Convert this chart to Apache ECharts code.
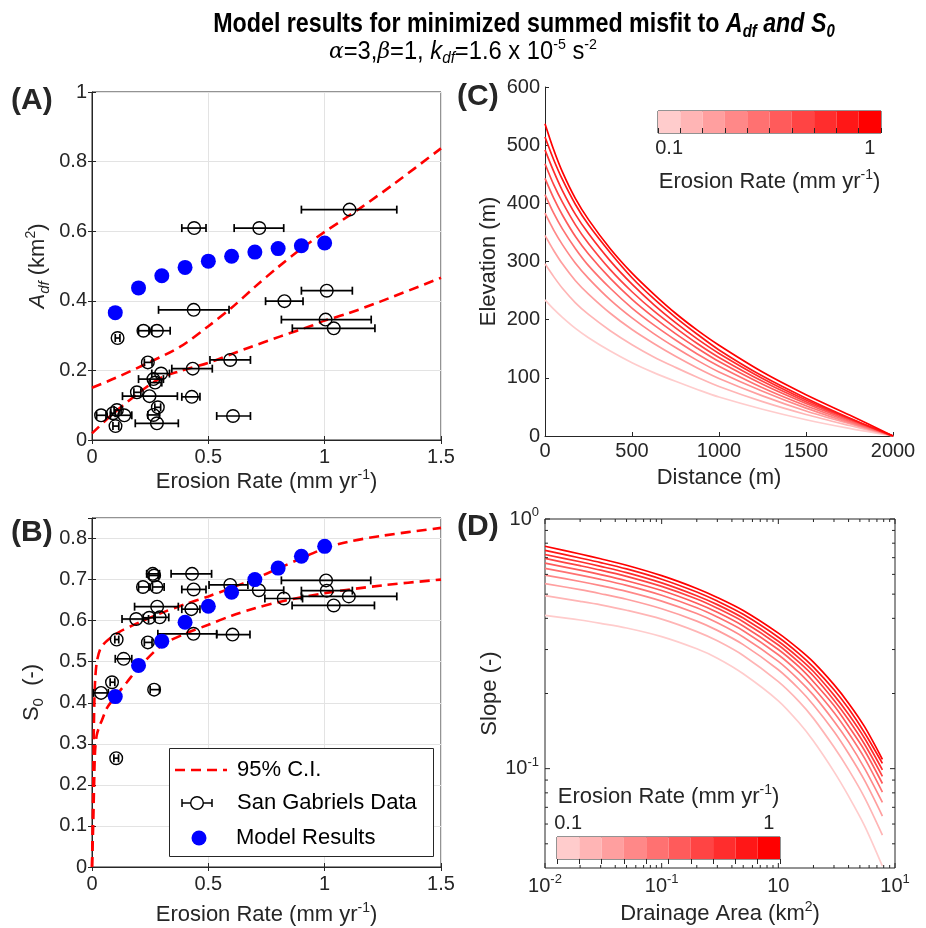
<!DOCTYPE html>
<html><head><meta charset="utf-8">
<script src="https://cdn.jsdelivr.net/npm/echarts@6/dist/echarts.min.js"></script>
<style>html,body{margin:0;padding:0;background:#fff}#c{width:926px;height:928px}</style>
</head><body><div id="c"></div>
<script>
// ---------------- DATA ----------------
const erosionModel = [0.1,0.2,0.3,0.4,0.5,0.6,0.7,0.8,0.9,1.0];
const adfModel = [0.366,0.437,0.472,0.496,0.514,0.528,0.540,0.550,0.558,0.566];
const s0Model  = [0.415,0.491,0.550,0.596,0.635,0.669,0.700,0.728,0.757,0.781];

// [erosion, value, errLow, errHigh]
const adfData = [
 [1.107,0.662,0.90,1.31],[0.439,0.609,0.386,0.49],[0.719,0.609,0.611,0.824],
 [1.009,0.429,0.90,1.119],[0.827,0.399,0.746,0.907],[0.437,0.374,0.286,0.589],
 [1.004,0.346,0.814,1.20],[1.039,0.321,0.861,1.216],[0.11,0.293,0.10,0.12],
 [0.221,0.314,0.20,0.245],[0.279,0.314,0.257,0.336],[0.24,0.223,0.225,0.258],
 [0.297,0.191,0.257,0.333],[0.433,0.205,0.343,0.517],[0.594,0.230,0.507,0.681],
 [0.264,0.175,0.20,0.307],[0.271,0.165,0.25,0.30],[0.193,0.137,0.18,0.21],
 [0.247,0.126,0.131,0.367],[0.429,0.124,0.386,0.464],[0.606,0.069,0.536,0.681],
 [0.039,0.071,0.02,0.06],[0.107,0.086,0.095,0.125],[0.09,0.077,0.08,0.10],
 [0.139,0.071,0.079,0.171],[0.101,0.04,0.09,0.115],[0.283,0.094,0.27,0.295],
 [0.264,0.072,0.24,0.29],[0.279,0.048,0.186,0.371]
];
const s0Data = [
 [0.261,0.714,0.235,0.29],[0.267,0.71,0.245,0.285],[0.43,0.714,0.34,0.514],
 [0.219,0.682,0.2,0.245],[0.277,0.682,0.26,0.31],[0.437,0.676,0.386,0.49],
 [0.594,0.687,0.503,0.67],[0.717,0.674,0.614,0.824],[1.006,0.698,0.814,1.198],
 [1.009,0.673,0.90,1.119],[1.104,0.659,0.90,1.31],[0.824,0.654,0.743,0.905],
 [1.039,0.637,0.86,1.214],[0.28,0.634,0.183,0.371],[0.427,0.628,0.386,0.464],
 [0.19,0.604,0.129,0.243],[0.246,0.607,0.22,0.27],[0.291,0.608,0.27,0.33],
 [0.436,0.568,0.283,0.536],[0.604,0.566,0.536,0.679],[0.106,0.554,0.098,0.115],
 [0.24,0.547,0.225,0.258],[0.136,0.507,0.1,0.171],[0.086,0.45,0.078,0.098],
 [0.039,0.424,0.007,0.07],[0.267,0.432,0.25,0.29],[0.104,0.265,0.094,0.114]
];

const adfCIUpper = [[0,0.15],[0.1,0.178],[0.236,0.22],[0.379,0.268],[0.5,0.327],[0.6,0.38],[0.7,0.44],[0.8,0.497],[0.9,0.55],[1.0,0.598],[1.15,0.665],[1.3,0.737],[1.5,0.838]];
const adfCILower = [[0,0.019],[0.093,0.077],[0.236,0.153],[0.307,0.182],[0.379,0.198],[0.5,0.222],[0.664,0.263],[0.807,0.297],[0.95,0.33],[1.0,0.343],[1.093,0.362],[1.236,0.397],[1.5,0.466]];
const s0CIUpper = [[0,0],[0.004,0.15],[0.007,0.3],[0.01,0.4],[0.014,0.46],[0.021,0.5],[0.035,0.53],[0.057,0.547],[0.113,0.571],[0.2,0.595],[0.3,0.619],[0.4,0.64],[0.5,0.659],[0.6,0.68],[0.7,0.702],[0.8,0.727],[0.9,0.752],[1.0,0.776],[1.1,0.792],[1.25,0.807],[1.5,0.826]];
const s0CILower = [[0,0],[0.005,0.1],[0.009,0.2],[0.013,0.28],[0.02,0.32],[0.03,0.34],[0.043,0.358],[0.064,0.387],[0.1,0.415],[0.15,0.45],[0.2,0.485],[0.3,0.54],[0.4,0.568],[0.5,0.59],[0.6,0.612],[0.7,0.63],[0.8,0.645],[1.0,0.667],[1.25,0.686],[1.5,0.70]];

const erosionRateLevels = ['0.1','0.2','0.3','0.4','0.5','0.6','0.7','0.8','0.9','1'];

const distance = [0,50,100,175,250,375,500,625,750,875,1000,1250,1500,1750,2000];
const elevationByRate = [
 [234,218,204,185,169,146,126,109,94,80,67,46,28,13,0],
 [296,274,254,229,209,181,157,136,118,101,85,59,37,18,0],
 [345,319,296,267,244,211,183,159,137,117,99,69,43,21,0],
 [383,354,329,297,271,234,203,176,152,130,110,77,48,23,0],
 [415,383,356,322,293,254,220,191,165,141,120,83,52,25,0],
 [443,409,380,343,313,271,235,204,176,151,128,89,56,27,0],
 [468,432,402,363,331,286,248,215,186,159,135,94,59,29,0],
 [492,455,422,381,348,301,261,226,195,167,142,99,62,30,0],
 [514,475,441,398,363,315,272,236,204,175,148,103,65,31,0],
 [537,492,454,408,372,322,280,244,211,182,156,110,71,36,0]
];

const drainageArea = [0.01,0.02,0.03,0.05,0.1,0.2,0.3,0.5,1,1.5,2,3,4,5.5,7.8];
const slopeByRate = [
 [0.411,0.394,0.382,0.366,0.338,0.302,0.277,0.240,0.187,0.153,0.129,0.0973,0.0776,0.0589,0.0407],
 [0.493,0.468,0.453,0.431,0.397,0.354,0.325,0.284,0.223,0.186,0.159,0.122,0.0991,0.0764,0.0542],
 [0.551,0.521,0.502,0.477,0.437,0.390,0.358,0.314,0.249,0.209,0.180,0.141,0.115,0.0895,0.0646],
 [0.596,0.562,0.541,0.513,0.469,0.418,0.384,0.337,0.269,0.227,0.197,0.155,0.128,0.100,0.0732],
 [0.634,0.596,0.573,0.542,0.495,0.441,0.405,0.357,0.286,0.243,0.211,0.168,0.139,0.110,0.0806],
 [0.666,0.624,0.599,0.566,0.517,0.460,0.423,0.373,0.300,0.256,0.223,0.179,0.148,0.118,0.0872],
 [0.695,0.650,0.624,0.589,0.537,0.478,0.439,0.388,0.313,0.267,0.235,0.188,0.157,0.125,0.0932],
 [0.721,0.674,0.646,0.610,0.555,0.493,0.454,0.401,0.324,0.278,0.245,0.197,0.165,0.132,0.0989],
 [0.749,0.698,0.669,0.631,0.574,0.510,0.469,0.415,0.336,0.289,0.255,0.207,0.174,0.139,0.105],
 [0.778,0.724,0.693,0.653,0.593,0.527,0.485,0.430,0.349,0.301,0.267,0.217,0.183,0.147,0.109]
];

const logMajorX = [0.01,0.1,1,10];
const logMinorX = [0.02,0.03,0.04,0.05,0.06,0.07,0.08,0.09,0.2,0.3,0.4,0.5,0.6,0.7,0.8,0.9,2,3,4,5,6,7,8,9];
const logMajorY = [0.1,1];
const logMinorY = [0.05,0.06,0.07,0.08,0.09,0.2,0.3,0.4,0.5,0.6,0.7,0.8,0.9];

// ---------------- STYLE ----------------
const FONT = "'Liberation Sans', Arial, Helvetica, sans-serif";
const AX = '#262626';
const GRIDC = '#e3e3e3';
const levelColors = ['#ffcccc','#ffb5b5','#ff9f9f','#ff8888','#ff7171','#ff5b5b','#ff4444','#ff2d2d','#ff1717','#ff0000'];

const nameRich = {
  n: {fontFamily: FONT, fontSize: 22, color: AX, lineHeight: 28},
  i: {fontFamily: FONT, fontSize: 22, color: AX, fontStyle: 'italic', lineHeight: 28},
  sup: {fontFamily: FONT, fontSize: 14, color: AX, verticalAlign: 'top', lineHeight: 14},
  sub: {fontFamily: FONT, fontSize: 15, color: AX, verticalAlign: 'bottom', lineHeight: 14, fontStyle: 'italic'},
  subn: {fontFamily: FONT, fontSize: 15, color: AX, verticalAlign: 'bottom', lineHeight: 14}
};
const labelStyle = {fontFamily: FONT, fontSize: 20, color: AX};
const tickStyle = {color: AX, width: 1};

function mainAxis(o) {
  return Object.assign({
    axisLine: {show: true, onZero: false, lineStyle: {color: AX, width: 1}},
    axisTick: {show: true, inside: true, length: 4, lineStyle: tickStyle},
    axisLabel: Object.assign({}, labelStyle),
    splitLine: {show: false},
    nameLocation: 'middle',
    nameTextStyle: {rich: nameRich}
  }, o);
}
function mirrorAxis(o) {
  return Object.assign({
    axisLine: {show: false},
    axisTick: {show: true, inside: true, length: 4, lineStyle: tickStyle},
    axisLabel: {show: false},
    splitLine: {show: false}
  }, o);
}

function errRender(params, api) {
  const x = api.value(0), y = api.value(1), lo = api.value(2), hi = api.value(3);
  const c = api.coord([x, y]), l = api.coord([lo, y]), h = api.coord([hi, y]);
  const st = {stroke: '#000', lineWidth: 1.7};
  return {type: 'group', children: [
    {type: 'line', shape: {x1: l[0], y1: l[1], x2: h[0], y2: h[1]}, style: st},
    {type: 'line', shape: {x1: l[0], y1: l[1]-4, x2: l[0], y2: l[1]+4}, style: st},
    {type: 'line', shape: {x1: h[0], y1: h[1]-4, x2: h[0], y2: h[1]+4}, style: st},
    {type: 'circle', shape: {cx: c[0], cy: c[1], r: 6.3}, style: {stroke: '#000', lineWidth: 1.4, fill: 'transparent'}}
  ]};
}
function tickRender(params, api) {
  const cs = params.coordSys;
  const kind = api.value(2), len = api.value(3);
  const st = {stroke: AX, lineWidth: 1};
  if (kind === 0) {
    const px = api.coord([api.value(0), 0.5])[0];
    return {type: 'group', children: [
      {type: 'line', shape: {x1: px, y1: cs.y + cs.height, x2: px, y2: cs.y + cs.height - len}, style: st},
      {type: 'line', shape: {x1: px, y1: cs.y, x2: px, y2: cs.y + len}, style: st}
    ]};
  }
  const py = api.coord([0.5, api.value(1)])[1];
  return {type: 'group', children: [
    {type: 'line', shape: {x1: cs.x, y1: py, x2: cs.x + len, y2: py}, style: st},
    {type: 'line', shape: {x1: cs.x + cs.width, y1: py, x2: cs.x + cs.width - len, y2: py}, style: st}
  ]};
}
const tickData = [].concat(
  logMajorX.map(v => [v, 0.5, 0, 5]), logMinorX.map(v => [v, 0.5, 0, 3]),
  logMajorY.map(v => [0.5, v, 1, 5]), logMinorY.map(v => [0.5, v, 1, 3])
);
function isPow10(v) { const l = Math.log10(v); return Math.abs(l - Math.round(l)) < 1e-6; }
const logRich = {
  b: {fontFamily: FONT, fontSize: 20, color: AX, lineHeight: 26},
  s: {fontFamily: FONT, fontSize: 13, color: AX, verticalAlign: 'top', lineHeight: 13}
};

const ciStyle = {color: '#ff0000', width: 2.6, type: [10, 6]};

const series = [];
// Panel A
series.push({type: 'line', xAxisIndex: 0, yAxisIndex: 0, data: adfCIUpper, showSymbol: false, smooth: 0.3, lineStyle: ciStyle, z: 2});
series.push({type: 'line', xAxisIndex: 0, yAxisIndex: 0, data: adfCILower, showSymbol: false, smooth: 0.3, lineStyle: ciStyle, z: 2});
series.push({type: 'custom', xAxisIndex: 0, yAxisIndex: 0, data: adfData, renderItem: errRender, encode: {x: 0, y: 1}, z: 3});
series.push({type: 'scatter', xAxisIndex: 0, yAxisIndex: 0, data: erosionModel.map((e, i) => [e, adfModel[i]]), symbolSize: 15, itemStyle: {color: '#0000ff', opacity: 1}, z: 4});
// Panel B
series.push({type: 'line', xAxisIndex: 2, yAxisIndex: 2, data: s0CIUpper, showSymbol: false, smooth: 0.3, lineStyle: ciStyle, z: 2});
series.push({type: 'line', xAxisIndex: 2, yAxisIndex: 2, data: s0CILower, showSymbol: false, smooth: 0.3, lineStyle: ciStyle, z: 2});
series.push({type: 'custom', xAxisIndex: 2, yAxisIndex: 2, data: s0Data, renderItem: errRender, encode: {x: 0, y: 1}, z: 3});
series.push({type: 'scatter', xAxisIndex: 2, yAxisIndex: 2, data: erosionModel.map((e, i) => [e, s0Model[i]]), symbolSize: 15, itemStyle: {color: '#0000ff', opacity: 1}, z: 4});
// Panel C
elevationByRate.forEach((arr, k) => series.push({type: 'line', xAxisIndex: 4, yAxisIndex: 4, data: distance.map((d, i) => [d, arr[i]]), showSymbol: false, smooth: 0.3, lineStyle: {color: levelColors[k], width: 1.7}}));
// Panel D
slopeByRate.forEach((arr, k) => series.push({type: 'line', xAxisIndex: 5, yAxisIndex: 5, data: drainageArea.map((a, i) => [a, arr[i]]), showSymbol: false, smooth: 0.3, lineStyle: {color: levelColors[k], width: 1.7}}));
series.push({type: 'custom', xAxisIndex: 5, yAxisIndex: 5, data: tickData, renderItem: tickRender, encode: {x: 0, y: 1}, silent: true, z: 6});
// Colorbars
const cbData = erosionRateLevels.map((v, i) => ({value: 1, itemStyle: {color: levelColors[i]}}));
series.push({type: 'bar', xAxisIndex: 6, yAxisIndex: 6, data: cbData, barCategoryGap: '0%', barWidth: '100%', silent: true});
series.push({type: 'bar', xAxisIndex: 7, yAxisIndex: 7, data: cbData, barCategoryGap: '0%', barWidth: '100%', silent: true});

const cbLabel = (v, i) => (i === 0 ? '0.1' : (i === erosionRateLevels.length - 1 ? '1' : ''));
const erosionName = '{n|Erosion Rate (mm yr}{sup|-1}{n|)}';
const plainNum = v => String(+v.toFixed(2));

const option = {
  animation: false,
  backgroundColor: '#fff',
  grid: [
    {left: 92, top: 92, width: 349, height: 348, show: true, borderColor: AX, borderWidth: 1},
    {left: 92, top: 518, width: 349, height: 349, show: true, borderColor: AX, borderWidth: 1},
    {left: 545, top: 87, width: 348, height: 349},
    {left: 545, top: 519, width: 350, height: 349, show: true, borderColor: AX, borderWidth: 1},
    {left: 658, top: 111, width: 223, height: 22, show: true, borderColor: AX, borderWidth: 1},
    {left: 557, top: 837, width: 223, height: 22, show: true, borderColor: AX, borderWidth: 1}
  ],
  xAxis: [
    mainAxis({type: 'value', gridIndex: 0, min: 0, max: 1.5, interval: 0.5, name: erosionName, nameGap: 28,
      axisLabel: Object.assign({}, labelStyle, {margin: 7, formatter: plainNum}), splitLine: {show: true, lineStyle: {color: GRIDC}}}),
    mirrorAxis({type: 'value', gridIndex: 0, position: 'top', min: 0, max: 1.5, interval: 0.5}),
    mainAxis({type: 'value', gridIndex: 1, min: 0, max: 1.5, interval: 0.5, name: erosionName, nameGap: 34,
      axisLabel: Object.assign({}, labelStyle, {margin: 7, formatter: plainNum}), splitLine: {show: true, lineStyle: {color: GRIDC}}}),
    mirrorAxis({type: 'value', gridIndex: 1, position: 'top', min: 0, max: 1.5, interval: 0.5}),
    mainAxis({type: 'value', gridIndex: 2, min: 0, max: 2000, interval: 500, name: '{n|Distance (m)}', nameGap: 28,
      axisLabel: Object.assign({}, labelStyle, {margin: 5, formatter: v => String(Math.round(v))})}),
    mainAxis({type: 'log', logBase: 10, gridIndex: 3, min: 0.01, max: 10, name: '{n|Drainage Area (km}{sup|2}{n|)}', nameGap: 32,
      axisTick: {show: false}, axisLine: {show: false},
      axisLabel: {margin: 5, rich: logRich, formatter: v => {
        if (!isPow10(v)) return '';
        const e = Math.round(Math.log10(v));
        return e === 0 ? '{b|10}' : '{b|10}{s|' + e + '}';
      }}}),
    {type: 'category', gridIndex: 4, data: erosionRateLevels, z: 10,
      axisLine: {show: false}, axisTick: {show: true, inside: true, length: 5, interval: 0, lineStyle: tickStyle},
      axisLabel: Object.assign({}, labelStyle, {interval: 0, margin: 5, formatter: cbLabel}),
      name: erosionName, nameLocation: 'middle', nameGap: 35, nameTextStyle: {rich: nameRich}},
    {type: 'category', gridIndex: 5, position: 'top', data: erosionRateLevels, z: 10,
      axisLine: {show: false}, axisTick: {show: true, inside: true, length: 5, interval: 0, lineStyle: tickStyle},
      axisLabel: Object.assign({}, labelStyle, {interval: 0, margin: 4, formatter: cbLabel}),
      name: erosionName, nameLocation: 'middle', nameGap: 26, nameTextStyle: {rich: nameRich}}
  ],
  yAxis: [
    mainAxis({type: 'value', gridIndex: 0, min: 0, max: 1, interval: 0.2,
      name: '{i|A}{sub|df}{n| (km}{sup|2}{n|)}', nameGap: 40,
      axisLabel: Object.assign({}, labelStyle, {margin: 5, formatter: plainNum}), splitLine: {show: true, lineStyle: {color: GRIDC}}}),
    mirrorAxis({type: 'value', gridIndex: 0, position: 'right', min: 0, max: 1, interval: 0.2}),
    mainAxis({type: 'value', gridIndex: 1, min: 0, max: 0.85, interval: 0.1,
      name: '{n|S}{subn|0}{n|  (-)}', nameGap: 46,
      axisLabel: Object.assign({}, labelStyle, {margin: 5, formatter: v => (v > 0.81 ? '' : String(+v.toFixed(1)))}),
      splitLine: {show: true, lineStyle: {color: GRIDC}}}),
    mirrorAxis({type: 'value', gridIndex: 1, position: 'right', min: 0, max: 0.85, interval: 0.1}),
    mainAxis({type: 'value', gridIndex: 2, min: 0, max: 600, interval: 100, name: '{n|Elevation (m)}', nameGap: 42,
      axisLabel: Object.assign({}, labelStyle, {margin: 5, formatter: v => String(Math.round(v))})}),
    mainAxis({type: 'log', logBase: 10, gridIndex: 3, min: 0.04, max: 1, name: '{n|Slope (-)}', nameGap: 32,
      axisTick: {show: false}, axisLine: {show: false},
      axisLabel: {margin: 6, rich: logRich, formatter: v => {
        if (!isPow10(v)) return '';
        const e = Math.round(Math.log10(v));
        return '{b|10}{s|' + e + '}';
      }}}),
    {type: 'value', gridIndex: 4, min: 0, max: 1, show: false},
    {type: 'value', gridIndex: 5, min: 0, max: 1, show: false}
  ],
  series: series,
  graphic: [
    {type: 'text', x: 524, y: 24, z: 100, scaleX: 0.83, style: {
      text: '{n|Model results for minimized summed misfit to }{i|A}{s|df}{i| and S}{s|0}',
      align: 'center', verticalAlign: 'middle', textAlign: 'center', textVerticalAlign: 'middle',
      rich: {
        n: {fontFamily: FONT, fontWeight: 'bold', fontSize: 28, color: '#000', lineHeight: 34},
        i: {fontFamily: FONT, fontWeight: 'bold', fontStyle: 'italic', fontSize: 28, color: '#000', lineHeight: 34},
        s: {fontFamily: FONT, fontWeight: 'bold', fontStyle: 'italic', fontSize: 18, color: '#000', verticalAlign: 'bottom', lineHeight: 18}
      }}},
    {type: 'text', x: 463, y: 52, z: 100, scaleX: 0.95, style: {
      text: '{g|α}{n|=3,}{g|β}{n|=1, }{i|k}{s|df}{n|=1.6 x 10}{p|-5}{n| s}{p|-2}',
      align: 'center', verticalAlign: 'middle', textAlign: 'center', textVerticalAlign: 'middle',
      rich: {
        n: {fontFamily: FONT, fontSize: 25, color: '#000', lineHeight: 30},
        g: {fontFamily: "'DejaVu Serif', serif", fontStyle: 'italic', fontSize: 23, color: '#000', lineHeight: 30},
        i: {fontFamily: FONT, fontStyle: 'italic', fontSize: 25, color: '#000', lineHeight: 30},
        s: {fontFamily: FONT, fontStyle: 'italic', fontSize: 16, color: '#000', verticalAlign: 'bottom', lineHeight: 16},
        p: {fontFamily: FONT, fontSize: 15, color: '#000', verticalAlign: 'top', lineHeight: 15}
      }}},
    {type: 'text', x: 11, y: 101, z: 100, style: {text: '(A)', font: 'bold 30px ' + FONT, fill: AX, verticalAlign: 'middle', textVerticalAlign: 'middle'}},
    {type: 'text', x: 11, y: 533, z: 100, style: {text: '(B)', font: 'bold 30px ' + FONT, fill: AX, verticalAlign: 'middle', textVerticalAlign: 'middle'}},
    {type: 'text', x: 457, y: 97, z: 100, style: {text: '(C)', font: 'bold 30px ' + FONT, fill: AX, verticalAlign: 'middle', textVerticalAlign: 'middle'}},
    {type: 'text', x: 457, y: 527, z: 100, style: {text: '(D)', font: 'bold 30px ' + FONT, fill: AX, verticalAlign: 'middle', textVerticalAlign: 'middle'}},
    // legend (panel B)
    {type: 'rect', z: 100, shape: {x: 169.5, y: 748.5, width: 264, height: 108}, style: {fill: '#fff', stroke: AX, lineWidth: 1}},
    {type: 'line', z: 101, shape: {x1: 175, y1: 770, x2: 227, y2: 770}, style: {stroke: '#ff0000', lineWidth: 2.6, lineDash: [10, 6]}},
    {type: 'text', z: 101, x: 237, y: 770, style: {text: '95% C.I.', font: '22px ' + FONT, fill: '#000', verticalAlign: 'middle', textVerticalAlign: 'middle'}},
    {type: 'line', z: 101, shape: {x1: 182, y1: 803, x2: 212, y2: 803}, style: {stroke: '#000', lineWidth: 1.5}},
    {type: 'line', z: 101, shape: {x1: 182, y1: 799, x2: 182, y2: 807}, style: {stroke: '#000', lineWidth: 1.5}},
    {type: 'line', z: 101, shape: {x1: 212, y1: 799, x2: 212, y2: 807}, style: {stroke: '#000', lineWidth: 1.5}},
    {type: 'circle', z: 101, shape: {cx: 197, cy: 803, r: 6.3}, style: {fill: '#fff', stroke: '#000', lineWidth: 1.4}},
    {type: 'text', z: 101, x: 237, y: 803, style: {text: 'San Gabriels Data', font: '22px ' + FONT, fill: '#000', verticalAlign: 'middle', textVerticalAlign: 'middle'}},
    {type: 'circle', z: 101, shape: {cx: 199, cy: 838, r: 7.5}, style: {fill: '#0000ff'}},
    {type: 'text', z: 101, x: 236, y: 838, style: {text: 'Model Results', font: '22px ' + FONT, fill: '#000', verticalAlign: 'middle', textVerticalAlign: 'middle'}}
  ]
};
const chart = echarts.init(document.getElementById('c'), null, {renderer: 'canvas'});
chart.setOption(option);
</script>
</body></html>
